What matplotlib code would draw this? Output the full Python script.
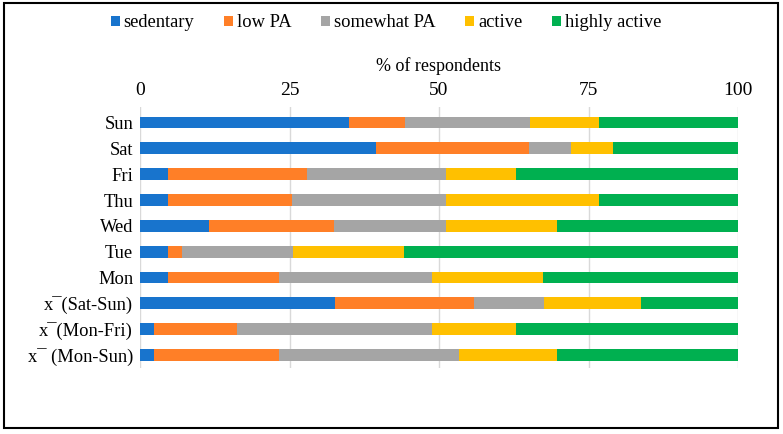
# Stacked horizontal bars: physical activity level by day of week

import numpy as np
import matplotlib.pyplot as plt
from matplotlib.patches import Rectangle

plt.rcParams["font.family"] = ["Liberation Serif", "DejaVu Serif"]

days = ["Sun", "Sat", "Fri", "Thu", "Wed", "Tue", "Mon",
        "x\u00af(Sat-Sun)", "x\u00af(Mon-Fri)", "x\u00af (Mon-Sun)"]

levels = ["sedentary", "low PA", "somewhat PA", "active", "highly active"]
colors = ["#1874CD", "#FF7F27", "#A5A5A5", "#FFC000", "#00B050"]

sedentary = [35.0, 39.5, 4.6, 4.6, 11.6, 4.7, 4.6, 32.6, 2.3, 2.3]
low_pa = [9.3, 25.6, 23.3, 20.9, 20.9, 2.3, 18.6, 23.3, 14.0, 20.9]
somewhat_pa = [20.9, 7.0, 23.3, 25.6, 18.6, 18.6, 25.6, 11.6, 32.6, 30.2]
active = [11.6, 7.0, 11.6, 25.6, 18.6, 18.6, 18.6, 16.3, 14.0, 16.3]
highly_active = [23.2, 20.9, 37.2, 23.3, 30.3, 55.8, 32.6, 16.2, 37.1, 30.3]

series = [sedentary, low_pa, somewhat_pa, active, highly_active]

fig = plt.figure(figsize=(7.83, 4.34), dpi=100)
ax = fig.add_axes([140 / 783, 1 - 368 / 434, 598 / 783, 261 / 434])

y = np.arange(len(days))
left = np.zeros(len(days))
for name, vals, col in zip(levels, series, colors):
    ax.barh(y, vals, left=left, height=0.46, color=col, label=name, zorder=3)
    left += np.array(vals)

ax.set_xlim(0, 100)
ax.set_ylim(len(days) - 0.5, -0.6)
ax.set_yticks(y)
ax.set_yticklabels(days, fontsize=13.3)
ax.set_xticks([0, 25, 50, 75, 100])
ax.xaxis.tick_top()
ax.xaxis.set_label_position("top")
ax.tick_params(axis="x", labelsize=14, length=0, pad=6)
ax.tick_params(axis="y", length=0, pad=5)
ax.set_xlabel("% of respondents", fontsize=13, labelpad=8)
ax.grid(axis="x", color="#D9D9D9", linewidth=1, zorder=0)
for s in ax.spines.values():
    s.set_visible(False)

fig.legend(loc="upper center", bbox_to_anchor=(386 / 783, 1.005), ncol=5,
           frameon=False, fontsize=13.3, handlelength=0.5, handleheight=0.5,
           handletextpad=0.2, columnspacing=1.6)

fig.patches.append(Rectangle((4 / 783, 6 / 434), 774 / 783, 425 / 434,
                             transform=fig.transFigure, fill=False,
                             edgecolor="black", linewidth=1.5))

fig.savefig("out.png", dpi=100)
